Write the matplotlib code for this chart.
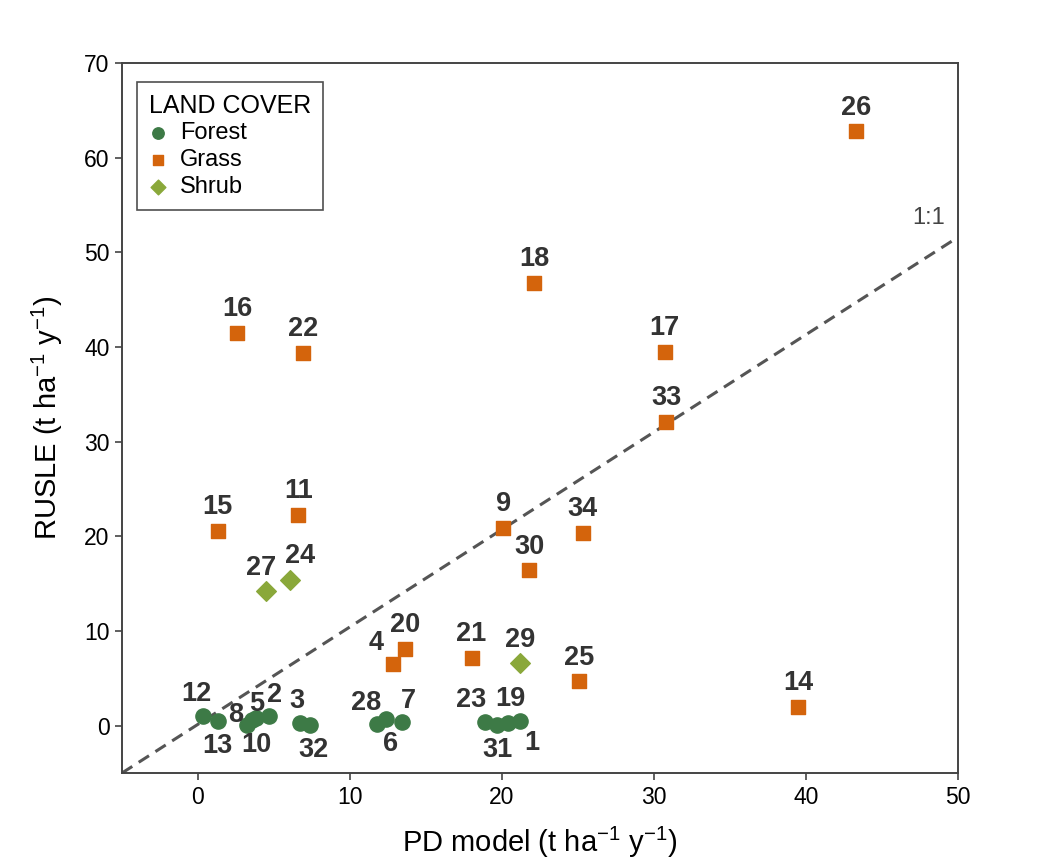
import matplotlib.pyplot as plt
import numpy as np

plt.rcParams['font.family'] = ['Liberation Sans', 'DejaVu Sans']
plt.rcParams['mathtext.fontset'] = 'custom'
plt.rcParams['mathtext.rm'] = 'Liberation Sans'

# data
forest_id = [12, 13, 8, 10, 5, 2, 3, 32, 28, 6, 7, 23, 31, 19, 1]
forest_pd = [0.35, 1.3, 3.2, 3.55, 3.85, 4.7, 6.7, 7.35, 11.8, 12.4, 13.4, 18.9, 19.7, 20.4, 21.2]
forest_rusle = [1.0, 0.5, 0.1, 0.6, 0.8, 1.0, 0.3, 0.1, 0.2, 0.7, 0.4, 0.4, 0.1, 0.3, 0.5]

grass_id = [26, 18, 16, 22, 17, 33, 15, 11, 9, 34, 30, 4, 20, 21, 25, 14]
grass_pd = [43.3, 22.1, 2.6, 6.9, 30.7, 30.8, 1.3, 6.6, 20.1, 25.3, 21.8, 12.8, 13.6, 18.0, 25.1, 39.5]
grass_rusle = [62.8, 46.8, 41.5, 39.4, 39.5, 32.1, 20.6, 22.3, 20.9, 20.4, 16.4, 6.5, 8.1, 7.2, 4.7, 2.0]

shrub_id = [27, 24, 29]
shrub_pd = [4.5, 6.05, 21.2]
shrub_rusle = [14.2, 15.4, 6.6]

# reference line as drawn in the picture
ref_x = [-5, 50]
ref_y = [-5, 51.6]

# label offsets in points (default: straight above)
offsets = {13: (0, -18), 8: (-8, 7), 10: (3, -18), 5: (0, 10), 2: (4, 15),
           12: (-5, 16), 3: (-2, 16), 32: (3, -18), 28: (-8, 15), 6: (3, -18),
           7: (5, 15), 23: (-10, 16), 31: (0, -18), 19: (2, 17), 1: (8, -16),
           4: (-12, 15), 27: (-4, 17), 24: (7, 17)}

fig = plt.figure(figsize=(10.57, 8.67), dpi=100)
ax = fig.add_axes([0.1154, 0.1084, 0.7909, 0.8189])

c_forest = '#3d7a46'
c_grass = '#d4640c'
c_shrub = '#8aa83a'

ax.plot(ref_x, ref_y, ls='--', color='#555555', lw=2.2, dashes=(4, 2.5), zorder=1)
ax.text(48.1, 52.5, '1:1', fontsize=17, color='#444444', ha='center', va='bottom')

ax.scatter(forest_pd, forest_rusle, s=120, marker='o', color=c_forest, label='Forest', zorder=3)
ax.scatter(grass_pd, grass_rusle, s=100, marker='s', color=c_grass, label='Grass', zorder=3)
ax.scatter(shrub_pd, shrub_rusle, s=100, marker='D', color=c_shrub, label='Shrub', zorder=3)

for ids, xs, ys in [(forest_id, forest_pd, forest_rusle), (grass_id, grass_pd, grass_rusle),
                    (shrub_id, shrub_pd, shrub_rusle)]:
    for i, x, y in zip(ids, xs, ys):
        dx, dy = offsets.get(i, (0, 17))
        ax.annotate(str(i), (x, y), xytext=(dx, dy), textcoords='offset points',
                    ha='center', va='center', fontsize=19.5, fontweight='bold', color='#333333')

ax.set_xlim(-5, 50)
ax.set_ylim(-5, 70)
ax.set_xticks(np.arange(0, 51, 10))
ax.set_yticks(np.arange(0, 71, 10))
ax.tick_params(labelsize=16.5, length=5, width=1.2, color='#444444', direction='out', pad=4)
for s in ax.spines.values():
    s.set_color('#444444')
    s.set_linewidth(1.4)

ax.set_xlabel('PD model (t ha$^{-1}$ y$^{-1}$)', fontsize=21, labelpad=12)
ax.set_ylabel('RUSLE (t ha$^{-1}$ y$^{-1}$)', fontsize=21, labelpad=14)

leg = ax.legend(title='LAND COVER', loc='upper left', fontsize=17, title_fontsize=18,
                frameon=True, fancybox=False, edgecolor='#222222', handletextpad=0.5,
                borderpad=0.5, labelspacing=0.2, handlelength=0.8, markerscale=0.75,
                bbox_to_anchor=(0.004, 0.99))
leg.get_frame().set_linewidth(1.2)
leg._legend_box.align = 'left'

fig.savefig('out.png', dpi=100)
